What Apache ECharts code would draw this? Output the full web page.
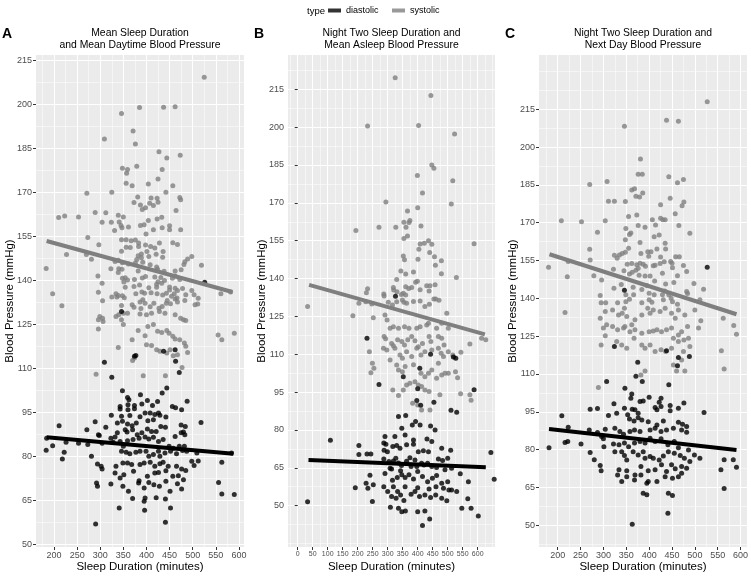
<!DOCTYPE html>
<html>
<head>
<meta charset="utf-8">
<script src="https://cdn.jsdelivr.net/npm/echarts@6/dist/echarts.min.js"></script>
<style>html,body{margin:0;padding:0;background:#fff}#c{width:751px;height:577px}</style>
</head>
<body>
<div id="c"></div>
<script>
// ---------- tick values ----------
const Y_TICKS = [50, 65, 80, 95, 110, 125, 140, 155, 170, 185, 200, 215];
const Y_MINOR = [35, 42.5, 57.5, 72.5, 87.5, 102.5, 117.5, 132.5, 147.5, 162.5, 177.5, 192.5, 207.5, 222.5, 230];
const X_TICKS_AC = [200, 250, 300, 350, 400, 450, 500, 550, 600];
const X_MINOR_AC = [175, 225, 275, 325, 375, 425, 475, 525, 575];
const X_TICKS_B = [0, 50, 100, 150, 200, 250, 300, 350, 400, 450, 500, 550, 600];
const X_MINOR_B = [-25, 25, 75, 125, 175, 225, 275, 325, 375, 425, 475, 525, 575, 625, 650];

// ---------- Panel A ----------
const A_SYS = [[525,209.3],[346,197],[385,199],[437,199.1],[462,199.3],[371,191],[309,188.3],[376,186.6],[427,183.9],[444,181.8],[473,182.7],[348,178.3],[359,177.9],[379,179],[357,176.6],[434,177.9],[425,174.6],[356,173.2],[369,172.3],[404,172.9],[457,172.3],[442,170.1],[271,169.8],[325,170.1],[381,168.5],[410,168.2],[423,168.1],[472,168.3],[474,167.6],[373,166.6],[387,165.8],[407,166.4],[415,165.6],[425,166.7],[391,164.2],[398,164.8],[464,163.9],[210,161.5],[223,162],[253,161.7],[289,163.2],[312,163.1],[339,162.3],[350,161.7],[304,159.9],[324,159.9],[341,160],[345,158.8],[347,158],[361,158.3],[331,157.1],[387,158.8],[395,159],[404,160.5],[423,161],[433,161.6],[415,157.3],[399,155.9],[434,158],[450,158.7],[450,157.3],[474,157.3],[273,154.7],[297,152.2],[346,153.9],[356,153.9],[367,153.6],[376,153.8],[383,152.8],[383,151.6],[365,151.3],[356,151.4],[346,150],[398,152.1],[409,151.6],[418,151.1],[428,152.8],[436,149.9],[421,149],[401,149.9],[382,148.5],[389,149.1],[379,147.2],[389,147.8],[376,146],[392,146.3],[405,148.2],[435,148],[457,152.9],[467,152.3],[227,148.9],[270,148.9],[281,147.3],[183,144.1],[332,146.5],[339,146.9],[348,146.1],[361,145.7],[323,144],[340,144],[347,143.9],[339,142.8],[382,143.3],[408,145.4],[422,144.6],[424,143.9],[438,143.2],[481,145.5],[483,146.4],[489,147.4],[498,148.2],[519,145.2],[462,143.3],[475,143.7],[348,140.8],[354,141],[359,140.2],[351,139.5],[374,140.4],[391,140.9],[398,141.4],[418,141.2],[431,141.1],[425,139.6],[422,138.8],[433,139.1],[439,140],[456,140.8],[462,141.6],[472,140.4],[304,139.1],[295,141.6],[354,137.7],[373,138],[385,138.5],[405,137.6],[422,137.7],[450,137.8],[462,137.4],[467,136.6],[478,137.3],[498,136.6],[296,136],[197,135.5],[334,135.5],[339,134.9],[348,134.8],[352,134.2],[325,134.4],[336,134.4],[377,135.5],[390,136.1],[396,135.7],[410,135.9],[423,135.5],[435,135.1],[443,135.7],[450,136.8],[460,135.5],[454,134.7],[462,133.7],[466,134.1],[485,135.2],[503,135.2],[512,134],[305,133.1],[217,131.4],[346,131.5],[369,131.8],[373,130.9],[386,132.7],[392,133.5],[397,132.3],[388,130.5],[408,131.1],[416,132.3],[427,130.6],[434,131.2],[443,132.3],[445,133.2],[452,132.1],[467,132.7],[483,133.2],[505,131.8],[511,132],[561,135.5],[582,136.1],[299,127.8],[305,127.2],[296,126.7],[306,126.1],[334,127.8],[340,128.4],[350,128.9],[359,128.9],[346,126.7],[386,128.6],[400,128.4],[411,128.9],[428,129.5],[440,128.9],[462,128.4],[474,127.2],[480,126.7],[485,126.4],[350,125],[296,123.5],[382,123],[403,124.4],[415,125],[424,122.7],[433,122.3],[444,123],[449,122.1],[457,121],[462,120.1],[472,119.8],[482,118.7],[485,117.6],[397,121.2],[400,118.1],[369,119.8],[339,117.2],[411,117.9],[422,116.4],[429,115.9],[451,116.4],[458,114.4],[489,115.5],[444,115.3],[467,114.7],[370,112.8],[374,113.6],[393,107.6],[441,107.6],[291,108.1],[477,110.4],[555,121.5],[563,119.8],[590,122.1]];
const A_DIA = [[526,139.4],[346,129.5],[374,114.2],[377,114.5],[309,112.2],[325,107.1],[437,115.9],[462,116.4],[463,112.5],[471,108.7],[348,102.5],[444,103.4],[434,101.7],[359,100.2],[362,99.4],[387,101.1],[360,97.7],[343,97.1],[374,97.4],[343,96.2],[360,96],[374,96.3],[390,97.9],[402,99.1],[424,98.8],[413,97.4],[456,97.1],[463,96.7],[476,96],[488,98.9],[426,94.9],[324,94.1],[346,93.8],[364,94],[386,93.6],[397,94.9],[408,94.9],[418,94.4],[429,94.1],[289,91.9],[312,90],[337,91.5],[348,92.1],[359,91.1],[369,90.5],[378,91.5],[403,92.2],[415,92.6],[442,93.5],[518,91.6],[475,90.8],[484,90.3],[211,90.5],[271,89.2],[296,87.5],[298,87.2],[323,86.3],[332,86.7],[337,88.1],[354,89.2],[358,88.4],[370,89.2],[380,87.5],[390,88.1],[402,89.4],[411,88.6],[421,88.6],[431,90.3],[441,90],[462,86.9],[475,88.1],[480,88.4],[483,87.5],[184,86.3],[197,83.7],[226,84.9],[253,84.6],[273,84.1],[304,84.6],[328,84.9],[343,85.2],[350,83.5],[359,85.4],[371,85.8],[384,86.3],[397,86.7],[405,86],[415,86.6],[426,85.2],[436,85.8],[449,83.5],[458,82.9],[471,83.5],[482,83.5],[183,82.2],[222,81.5],[218,79.2],[281,80.1],[346,81.8],[356,81.5],[364,81],[377,81.5],[386,81.8],[399,81.8],[405,80.1],[415,80.7],[426,81.8],[429,80.1],[440,81.2],[452,81.8],[465,81],[478,82.1],[487,81.8],[509,81.2],[563,78.1],[584,81.2],[294,77.5],[302,76.7],[304,75.8],[334,76.7],[349,77.8],[359,77.8],[368,77.3],[386,77.3],[395,77.8],[408,78.1],[418,76.7],[429,77.6],[436,78.1],[447,76.7],[465,76.7],[476,75.8],[485,75.3],[498,78.4],[512,78.5],[503,77],[332,74.4],[343,72.7],[351,73.8],[372,75],[384,71.8],[402,73.3],[418,74.4],[426,74.6],[442,75.2],[457,73.3],[469,73.5],[480,72.1],[292,71],[294,69.9],[323,70.7],[349,69.9],[361,68.2],[370,65.7],[383,71],[395,69.3],[405,71.2],[416,70.4],[428,69.9],[442,71.6],[451,68.2],[467,70.8],[476,69],[556,71.2],[563,67.3],[590,67.1],[397,65.9],[395,64.8],[421,66],[441,65.6],[396,61.7],[452,62.5],[341,62.5],[290,57],[441,57.6]];
const A_SYS_FIT = [[184,153.5],[586,136.1]];
const A_DIA_FIT = [[184,86.6],[588,81.0]];

// ---------- Panel B ----------
const B_SYS = [[325,219.6],[444,212.5],[233,200.5],[403,200.7],[523,197.3],[447,185],[454,183.7],[399,180.8],[517,178.8],[416,173.9],[294,170.3],[512,169.5],[366,166.8],[400,168.1],[354,162.3],[374,163],[371,162.2],[194,159],[271,160.3],[327,160.3],[361,160.3],[411,160.8],[354,155.9],[366,156.9],[436,155],[408,153.7],[422,154],[447,153.6],[404,151.6],[588,153.8],[440,150.3],[352,148.9],[356,147.4],[456,148.6],[479,147.1],[401,147.6],[459,145.3],[344,143],[360,141.8],[386,142.6],[479,141.9],[529,140.4],[319,136.5],[330,139.6],[360,136.7],[370,136.1],[380,136.5],[393,138.5],[399,138.9],[430,137.1],[441,137.1],[458,137.5],[408,135.6],[438,135.1],[233,136],[229,134.4],[287,133.9],[288,133.1],[320,135.5],[331,134.8],[346,133.7],[352,134.2],[360,133.5],[204,130.2],[302,130.6],[349,131.5],[354,130.6],[363,130.2],[386,130.9],[408,131.1],[460,131.9],[471,131.4],[439,129.8],[33,128.9],[227,130.8],[247,129.9],[316,129.5],[330,130.8],[454,131.9],[424,128.9],[497,126.2],[184,125.3],[252,124.5],[291,125.6],[298,123.6],[308,120.3],[319,120.9],[336,120.3],[356,120.9],[371,120.3],[397,120.3],[408,120.9],[430,121.6],[436,122.3],[463,120.3],[480,122.3],[502,120.3],[288,117],[293,116.1],[313,114.3],[319,113.4],[333,115.7],[347,115],[356,113.7],[367,115.7],[380,117],[391,115.3],[402,113],[416,114.3],[438,117],[444,115],[469,117],[480,116.3],[488,113.7],[574,114.1],[613,116.3],[627,115.7],[286,112.4],[297,111.7],[324,112.4],[341,109.7],[349,108.4],[363,111],[380,109.1],[397,112.4],[411,109.7],[424,111],[447,111.7],[469,112.4],[478,110.4],[486,109.1],[502,111],[517,109.7],[544,110.8],[239,111],[249,106.4],[244,102.7],[254,104.4],[308,107.7],[330,105.7],[336,103.8],[349,103.1],[358,105.1],[386,105.8],[411,102.5],[424,101.1],[436,102.5],[447,103.8],[469,106.4],[463,100.5],[480,101.8],[491,102.5],[502,102.5],[526,103.1],[533,100.7],[317,95.8],[336,93.6],[352,95.8],[363,97.8],[374,98.5],[391,99.1],[402,97.8],[413,97.2],[424,95.8],[438,95.2],[474,93.9],[543,94.3],[574,93.9],[578,91.8],[383,90.6],[400,89.9],[413,87.9],[441,87.9]];
const B_DIA = [[326,133],[231,116.3],[443,110],[519,108.9],[527,108.4],[407,104.4],[352,101.1],[271,98],[400,96.3],[397,91.7],[410,89.8],[454,91],[511,87.8],[530,87],[588,95.9],[109,75.9],[33,51.5],[192,57.1],[204,73.8],[204,70.3],[231,70.5],[244,70.5],[228,58.9],[234,56.9],[249,51.6],[241,62],[252,58.3],[287,74.8],[294,74.3],[288,71.9],[299,71.4],[287,68.5],[304,67.5],[291,62.7],[308,64.8],[319,67.7],[327,68.8],[336,66.9],[346,65.9],[363,67.6],[374,69],[391,68.1],[413,66.8],[433,66.8],[447,65.5],[469,68.5],[483,67.9],[500,68.8],[287,57.5],[300,55.6],[316,60.1],[332,61.1],[347,62.2],[358,61.1],[371,62.2],[386,60.6],[400,63.5],[416,61.5],[433,59.5],[449,60.8],[463,61.9],[480,58.9],[500,59.5],[513,64.8],[542,62.6],[569,59.5],[644,71.1],[655,60.5],[336,85.3],[360,85.7],[382,82],[393,83.3],[408,82],[443,81.6],[458,80],[347,80.7],[358,78],[386,76],[431,76.4],[447,75.4],[324,77.4],[291,77.4],[317,73.4],[330,73.8],[341,72.7],[363,74.1],[386,74.3],[402,71.4],[419,71.7],[436,71.4],[480,72.7],[510,71.9],[313,64.5],[343,63.8],[378,65.5],[397,65.5],[421,66.1],[463,65.1],[491,64.2],[313,53.6],[328,52.9],[343,54.2],[354,52],[378,54.5],[391,55.6],[406,53.6],[424,54.2],[443,53.2],[460,54.2],[480,52.9],[497,51.9],[513,56.2],[530,55.6],[547,49],[567,52.7],[578,49],[602,45.9],[309,49.4],[336,49],[347,47.6],[359,47.9],[400,47.6],[424,47.9],[440,44.7],[416,42.1],[333,55.6],[319,57.5],[358,57.5],[400,57.1],[438,56.6],[461,57.5],[486,56.9],[504,56.2]];
const B_SYS_FIT = [[38,137.5],[624,117.9]];
const B_DIA_FIT = [[36,68.1],[627,65.2]];

// ---------- Panel C ----------
const C_SYS = [[527,218],[438,210.6],[464,210.2],[346,208.2],[381,195.3],[376,189.2],[385,189.2],[443,188.2],[270,185.1],[308,186.3],[362,183],[368,183.5],[386,181.8],[371,180.5],[379,180.2],[462,185.8],[475,187.1],[446,179.7],[311,178.5],[324,178.5],[348,178.4],[425,177.1],[476,178.2],[472,176.7],[457,173.5],[373,173.1],[355,172.5],[425,171.8],[430,171.2],[435,171.2],[407,171.2],[208,170.8],[252,170.4],[304,170.8],[465,168.9],[414,169.1],[376,168.9],[391,168.2],[349,167.7],[287,166.2],[360,165.9],[357,165.3],[489,165.8],[422,165.1],[411,164.4],[348,163.2],[380,162.1],[435,161.9],[417,159.6],[436,159.6],[355,159.9],[270,159.5],[348,158.3],[341,157.8],[335,157.2],[324,157.1],[330,155.9],[382,157.8],[397,158.5],[404,158.5],[399,156.7],[425,156.4],[458,156.5],[466,156.5],[271,155.2],[223,154.6],[180,152.3],[221,148.6],[279,149],[296,147.3],[322,151.5],[352,153.5],[362,153.8],[373,153.3],[380,153.9],[376,151.9],[387,153.5],[392,152.7],[371,151.1],[363,150.4],[345,150.9],[357,149.7],[378,149.2],[391,148.9],[402,148.9],[409,152.9],[413,153.1],[424,153.8],[433,154.5],[447,154.6],[450,153.9],[451,152.1],[475,153],[482,150.6],[429,150],[462,149],[498,145.9],[519,143.6],[323,144],[339,145.5],[365,144.4],[384,143.5],[395,145.1],[412,146.9],[436,145.7],[454,146.3],[434,142.9],[400,142],[411,141.4],[429,141.4],[443,141.4],[448,140],[482,142.7],[484,141.9],[293,141.1],[305,138.3],[295,138.3],[331,138.3],[349,141.4],[349,138.7],[357,139.6],[366,141.4],[384,138.3],[400,139.4],[406,138.5],[431,139.4],[451,138.7],[462,137.7],[511,139.4],[216,134.4],[293,132.1],[304,134.8],[320,135.4],[333,133.4],[341,134.1],[346,136.1],[351,132.8],[347,128.8],[362,129.5],[369,131.5],[384,133.4],[397,136.1],[402,134.1],[409,135.4],[424,134.8],[435,136.1],[449,134.1],[457,132.1],[464,135.4],[478,133.4],[500,135.4],[513,131.1],[508,128.2],[484,128.8],[471,126.8],[464,125.5],[453,124.2],[449,128.2],[438,127.5],[427,126.8],[417,127.5],[409,127.1],[400,126.8],[384,126.2],[369,127.5],[358,126.8],[344,128.2],[331,127.5],[320,128.8],[307,129.5],[300,128.2],[304,125.2],[295,121.5],[329,122.9],[340,121.5],[351,120.2],[367,124.2],[384,121.5],[391,120.2],[402,121.5],[413,118.9],[426,119.6],[436,118.9],[449,120.2],[464,122.9],[476,123.5],[486,124.2],[489,120.9],[475,118.9],[453,113.6],[460,111.2],[478,111.2],[471,115.6],[391,111.2],[382,109.6],[289,104.6],[562,132.1],[585,129.2],[591,125.8],[558,119.2],[564,112]];
const C_DIA = [[527,152.3],[346,143.2],[324,120.9],[438,119.2],[464,116.5],[462,113.3],[488,116.9],[375,114.7],[371,109.1],[385,107],[307,107],[347,104.4],[443,105.7],[362,102.1],[360,100.4],[380,99.1],[387,99.3],[400,100.8],[426,100.4],[422,98.8],[426,97.1],[413,96.7],[417,95.8],[446,97.5],[464,96.4],[476,98.5],[446,95.4],[346,96.4],[363,96],[369,95.8],[376,94.4],[353,93.8],[376,92.7],[357,92.2],[367,91.4],[384,91.8],[398,91.1],[417,89.8],[431,91.4],[464,90.9],[473,90.1],[482,89.2],[329,94.4],[311,93.5],[323,98.2],[271,96],[287,96.3],[209,93.4],[520,94.7],[223,88.9],[269,87.8],[287,86.8],[304,88.1],[325,88.5],[336,87.2],[344,86.1],[358,87.2],[368,87.8],[380,87.2],[402,87.8],[413,88.5],[426,87.2],[438,87.8],[453,88.5],[471,87.8],[482,86.9],[296,85.2],[181,80.8],[216,82.8],[222,83.2],[251,82.2],[300,84.3],[301,81.2],[271,78.9],[280,76],[293,73.7],[295,71.6],[322,82.2],[334,81.9],[346,82.6],[355,81.2],[368,82.6],[380,83.2],[391,82.6],[402,84.5],[413,83.2],[426,84.3],[441,81.9],[455,83.2],[464,80.8],[486,79.9],[499,77.9],[511,76.6],[325,79.2],[340,79.2],[346,77.7],[351,75.9],[365,79.2],[376,77.9],[387,79.2],[391,76.6],[402,77.3],[409,76.6],[422,75.9],[431,77.5],[442,79.2],[455,78.6],[468,77.7],[477,76.6],[489,75.3],[482,72.6],[471,73.3],[457,72.4],[449,74],[438,71.3],[427,74],[413,72],[398,71.6],[382,73.3],[369,70],[351,71.6],[334,72],[331,70],[340,67.4],[351,69.3],[368,68],[382,70],[398,67.4],[417,67.4],[435,69.3],[451,68.7],[464,69.3],[471,70.6],[395,66.7],[387,62.7],[395,62.1],[442,62.7],[451,61.8],[441,54.8],[363,50.4],[557,72],[564,76],[584,76],[591,73],[564,64.6]];
const C_SYS_FIT = [[182,157.5],[591,133.7]];
const C_DIA_FIT = [[181,88.2],[591,79.9]];

// ---------- layout ----------
const GREY = '#7F7F7F';
const FONT = '"Liberation Sans", Arial, sans-serif';
const panels = [
  {letter:'A', title:'Mean Sleep Duration\nand Mean Daytime Blood Pressure', grid:{left:36, top:55, width:208, height:492},
   x:[161,611], y:[49.2,216.9], xt:X_TICKS_AC, xm:X_MINOR_AC, xfs:9, sys:A_SYS, dia:A_DIA, sf:A_SYS_FIT, df:A_DIA_FIT},
  {letter:'B', title:'Night Two Sleep Duration and\nMean Asleep Blood Pressure', grid:{left:288, top:55, width:207, height:492},
   x:[-32.3,657.7], y:[33.6,228.6], xt:X_TICKS_B, xm:X_MINOR_B, xfs:7, sys:B_SYS, dia:B_DIA, sf:B_SYS_FIT, df:B_DIA_FIT},
  {letter:'C', title:'Night Two Sleep Duration and\nNext Day Blood Pressure', grid:{left:539, top:55, width:208, height:492},
   x:[159.1,614], y:[41.4,236.5], xt:X_TICKS_AC, xm:X_MINOR_AC, xfs:9, sys:C_SYS, dia:C_DIA, sf:C_SYS_FIT, df:C_DIA_FIT}
];

const grid = [], xAxis = [], yAxis = [], series = [], title = [];
panels.forEach((p, i) => {
  grid.push(Object.assign({show:true, backgroundColor:'#EBEBEB', borderWidth:0, containLabel:false, outerBoundsMode:'none'}, p.grid));
  xAxis.push({type:'value', gridIndex:i, min:p.x[0], max:p.x[1],
    name:'Sleep Duration (minutes)', nameLocation:'middle', nameGap:14, nameMoveOverlap:false,
    nameTextStyle:{fontSize:11.5, color:'#000', fontFamily:FONT},
    axisLine:{show:false},
    axisTick:{show:true, length:3, lineStyle:{color:'#333', width:1}, customValues:p.xt},
    axisLabel:{customValues:p.xt, color:'#4D4D4D', fontSize:p.xfs, margin:4, fontFamily:FONT},
    splitLine:{show:true, lineStyle:{color:'#FFFFFF', width:1}}});
  xAxis.push({type:'value', gridIndex:i, min:p.x[0], max:p.x[1], position:'top',
    axisLine:{show:false}, axisTick:{show:false, customValues:p.xm}, axisLabel:{show:false, customValues:p.xm},
    splitLine:{show:true, lineStyle:{color:'#FFFFFF', width:0.5}}});
  yAxis.push({type:'value', gridIndex:i, min:p.y[0], max:p.y[1],
    name:'Blood Pressure (mmHg)', nameLocation:'middle', nameGap:20, nameMoveOverlap:false,
    nameTextStyle:{fontSize:11.5, color:'#000', fontFamily:FONT},
    axisLine:{show:false},
    axisTick:{show:true, length:3, lineStyle:{color:'#333', width:1}, customValues:Y_TICKS},
    axisLabel:{customValues:Y_TICKS, color:'#4D4D4D', fontSize:9, margin:4, fontFamily:FONT},
    splitLine:{show:true, lineStyle:{color:'#FFFFFF', width:1}}});
  yAxis.push({type:'value', gridIndex:i, min:p.y[0], max:p.y[1], position:'right',
    axisLine:{show:false}, axisTick:{show:false, customValues:Y_MINOR}, axisLabel:{show:false, customValues:Y_MINOR},
    splitLine:{show:true, lineStyle:{color:'#FFFFFF', width:0.5}}});
  const xi = 2*i, yi = 2*i;
  series.push({type:'scatter', name:'systolic', xAxisIndex:xi, yAxisIndex:yi, data:p.sys, symbolSize:5, itemStyle:{color:GREY}, z:2});
  series.push({type:'scatter', name:'diastolic', xAxisIndex:xi, yAxisIndex:yi, data:p.dia, symbolSize:5, itemStyle:{color:'#000'}, z:3});
  series.push({type:'line', name:'systolic', xAxisIndex:xi, yAxisIndex:yi, data:p.sf, showSymbol:false, symbol:'none', lineStyle:{color:GREY, width:4}, itemStyle:{color:GREY}, z:4});
  series.push({type:'line', name:'diastolic', xAxisIndex:xi, yAxisIndex:yi, data:p.df, showSymbol:false, symbol:'none', lineStyle:{color:'#000', width:4}, itemStyle:{color:'#000'}, z:4});
  const cx = p.grid.left + p.grid.width/2;
  title.push({text:p.title, left:cx, top:27, padding:0, textAlign:'center',
    textStyle:{fontSize:10.4, lineHeight:12, fontWeight:'normal', color:'#000', fontFamily:FONT}});
  title.push({text:p.letter, left:p.grid.left - 34, top:27, padding:0,
    textStyle:{fontSize:14, fontWeight:'bold', color:'#000', fontFamily:FONT}});
});
title.push({text:'type', left:307, top:6, padding:0, textStyle:{fontSize:9.5, fontWeight:'normal', color:'#000', fontFamily:FONT}});

const chart = echarts.init(document.getElementById('c'), null, {renderer:'canvas'});
chart.setOption({
  animation:false,
  backgroundColor:'#FFFFFF',
  title: title,
  legend:{left:328, top:6, padding:0, itemWidth:13, itemHeight:4, itemGap:13.5, icon:'rect',
    data:['diastolic','systolic'], textStyle:{fontSize:9, color:'#000', fontFamily:FONT}},
  grid: grid, xAxis: xAxis, yAxis: yAxis, series: series
});
</script>
</body>
</html>
